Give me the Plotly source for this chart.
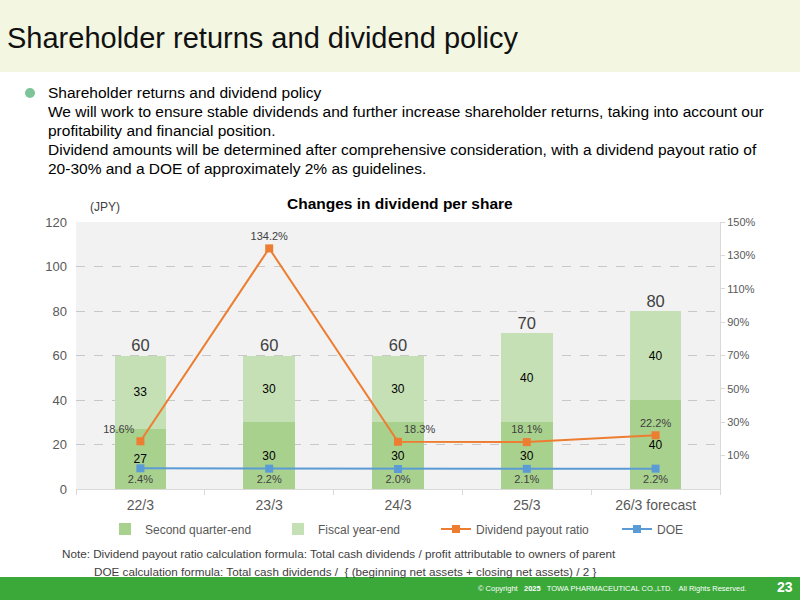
import plotly.graph_objects as go

categories = ["22/3", "23/3", "24/3", "25/3", "26/3 forecast"]
second_quarter = [27, 30, 30, 30, 40]
fiscal_year_end = [33, 30, 30, 40, 40]
totals = [60, 60, 60, 70, 80]
payout_ratio = [18.6, 134.2, 18.3, 18.1, 22.2]
doe = [2.4, 2.2, 2.0, 2.1, 2.2]
payout_text_pos = ["top left", "top center", "top right", "top center", "top center"]
right_ticks = [10, 30, 50, 70, 90, 110, 130, 150]

FONT = "Liberation Sans, Arial, sans-serif"
L, R, T, B = 76, 720, 222, 489
W, H = R - L, B - T


def px(x):
    return (x - L) / W


def py(y):
    return (B - y) / H


fig = go.Figure()
fig.add_trace(go.Bar(
    x=categories, y=second_quarter, name="Second quarter-end", legend="legend",
    marker=dict(color="#a9d18e", line=dict(width=0)),
    text=second_quarter, textposition="inside", insidetextanchor="middle",
    textfont=dict(size=12, color="#000000", family=FONT), constraintext="none",
    width=0.4,
))
fig.add_trace(go.Bar(
    x=categories, y=fiscal_year_end, name="Fiscal year-end", legend="legend2",
    marker=dict(color="#c5e0b4", line=dict(width=0)),
    text=fiscal_year_end, textposition="inside", insidetextanchor="middle",
    textfont=dict(size=12, color="#000000", family=FONT), constraintext="none",
    width=0.4,
))
fig.add_trace(go.Scatter(
    x=categories, y=totals, mode="text", text=[str(v) for v in totals],
    textposition="top center", textfont=dict(size=16.5, color="#404040", family=FONT),
    showlegend=False, hoverinfo="skip",
))
fig.add_trace(go.Scatter(
    x=categories, y=payout_ratio, name="Dividend payout ratio", yaxis="y2", legend="legend3",
    mode="lines+markers+text", text=[f"{v:.1f}%" for v in payout_ratio],
    textposition=payout_text_pos, textfont=dict(size=11, color="#404040", family=FONT),
    line=dict(color="#ed7d31", width=2), marker=dict(symbol="square", size=8, color="#ed7d31"),
))
fig.add_trace(go.Scatter(
    x=categories, y=doe, name="DOE", yaxis="y2", legend="legend4",
    mode="lines+markers+text", text=[f"{v:.1f}%" for v in doe],
    textposition="bottom center", textfont=dict(size=11, color="#404040", family=FONT),
    line=dict(color="#5b9bd5", width=2), marker=dict(symbol="square", size=8, color="#5b9bd5"),
))

shapes = [
    dict(type="rect", xref="paper", yref="paper", x0=px(0), x1=px(800), y0=py(0), y1=py(72),
         fillcolor="#f3f6e1", line=dict(width=0), layer="below"),
    dict(type="circle", xref="paper", yref="paper", x0=px(25), x1=px(35), y0=py(88), y1=py(98),
         fillcolor="#7dc598", line=dict(width=0)),
    dict(type="rect", xref="paper", yref="paper", x0=px(0), x1=px(800), y0=py(577), y1=py(600),
         fillcolor="#3aa93a", line=dict(width=0), layer="below"),
]


def ann(text, x, y, size, color="#000000", xanchor="left", bold=False):
    if bold:
        text = f"<b>{text}</b>"
    return dict(text=text, x=px(x), y=py(y), xref="paper", yref="paper", showarrow=False,
                xanchor=xanchor, yanchor="middle", font=dict(size=size, color=color, family=FONT))


annotations = [
    ann("Shareholder returns and dividend policy", 5, 38, 29, color="#111111"),
    ann("Shareholder returns and dividend policy", 46, 93, 15.5),
    ann("We will work to ensure stable dividends and further increase shareholder returns, taking into account our", 46, 111, 15.5),
    ann("profitability and financial position.", 46, 130, 15.5),
    ann("Dividend amounts will be determined after comprehensive consideration, with a dividend payout ratio of", 46, 149, 15.5),
    ann("20-30% and a DOE of approximately 2% as guidelines.", 46, 168, 15.5),
    ann("Changes in dividend per share", 400, 203, 15.5, xanchor="center", bold=True),
    ann("(JPY)", 88, 207, 12, color="#404040"),
    ann("Note: Dividend payout ratio calculation formula: Total cash dividends / profit attributable to owners of parent", 60, 553, 11.7, color="#404040"),
    ann("DOE calculation formula: Total cash dividends /  { (beginning net assets + closing net assets) / 2 }", 92, 571, 11.7, color="#404040"),
    ann("© Copyright   <b>2025</b>   TOWA PHARMACEUTICAL CO.,LTD.   All Rights Reserved.", 748, 588, 7.5, color="#ffffff", xanchor="right"),
    ann("23", 785, 587, 14, color="#ffffff", xanchor="center", bold=True),
]


def leg(x_pix):
    return dict(orientation="h", x=px(x_pix), xanchor="left", y=py(529), yanchor="middle",
                font=dict(size=12, color="#595959", family=FONT), bgcolor="rgba(0,0,0,0)")


fig.update_layout(
    width=800, height=600,
    margin=dict(l=L, r=800 - R, t=T, b=600 - B, pad=0),
    paper_bgcolor="#ffffff", plot_bgcolor="#f2f2f2",
    barmode="stack", bargap=0.6,
    font=dict(family=FONT, color="#595959"),
    showlegend=True,
    legend=leg(105), legend2=leg(278), legend3=leg(436), legend4=leg(617),
    xaxis=dict(type="category", showgrid=False, showline=True, linecolor="#d9d9d9",
               ticks="outside", tickson="boundaries", ticklen=5, tickcolor="#d9d9d9",
               tickfont=dict(size=14, color="#595959"), ticklabelstandoff=3, fixedrange=True),
    yaxis=dict(range=[0, 120], dtick=20, showgrid=True, gridcolor="#c8c8c8", griddash="dash",
               gridwidth=1, zeroline=False, showline=False,
               tickfont=dict(size=13, color="#595959"), ticklabelstandoff=8),
    yaxis2=dict(overlaying="y", side="right", range=[-10, 150], tickmode="array",
                tickvals=right_ticks, ticktext=[f"{v}%" for v in right_ticks],
                showgrid=False, zeroline=False, showline=True,
                linecolor="#d9d9d9", ticks="outside", ticklen=4, tickcolor="#d9d9d9",
                tickfont=dict(size=11, color="#595959")),
    shapes=shapes, annotations=annotations,
)

fig.write_html("out.html")
